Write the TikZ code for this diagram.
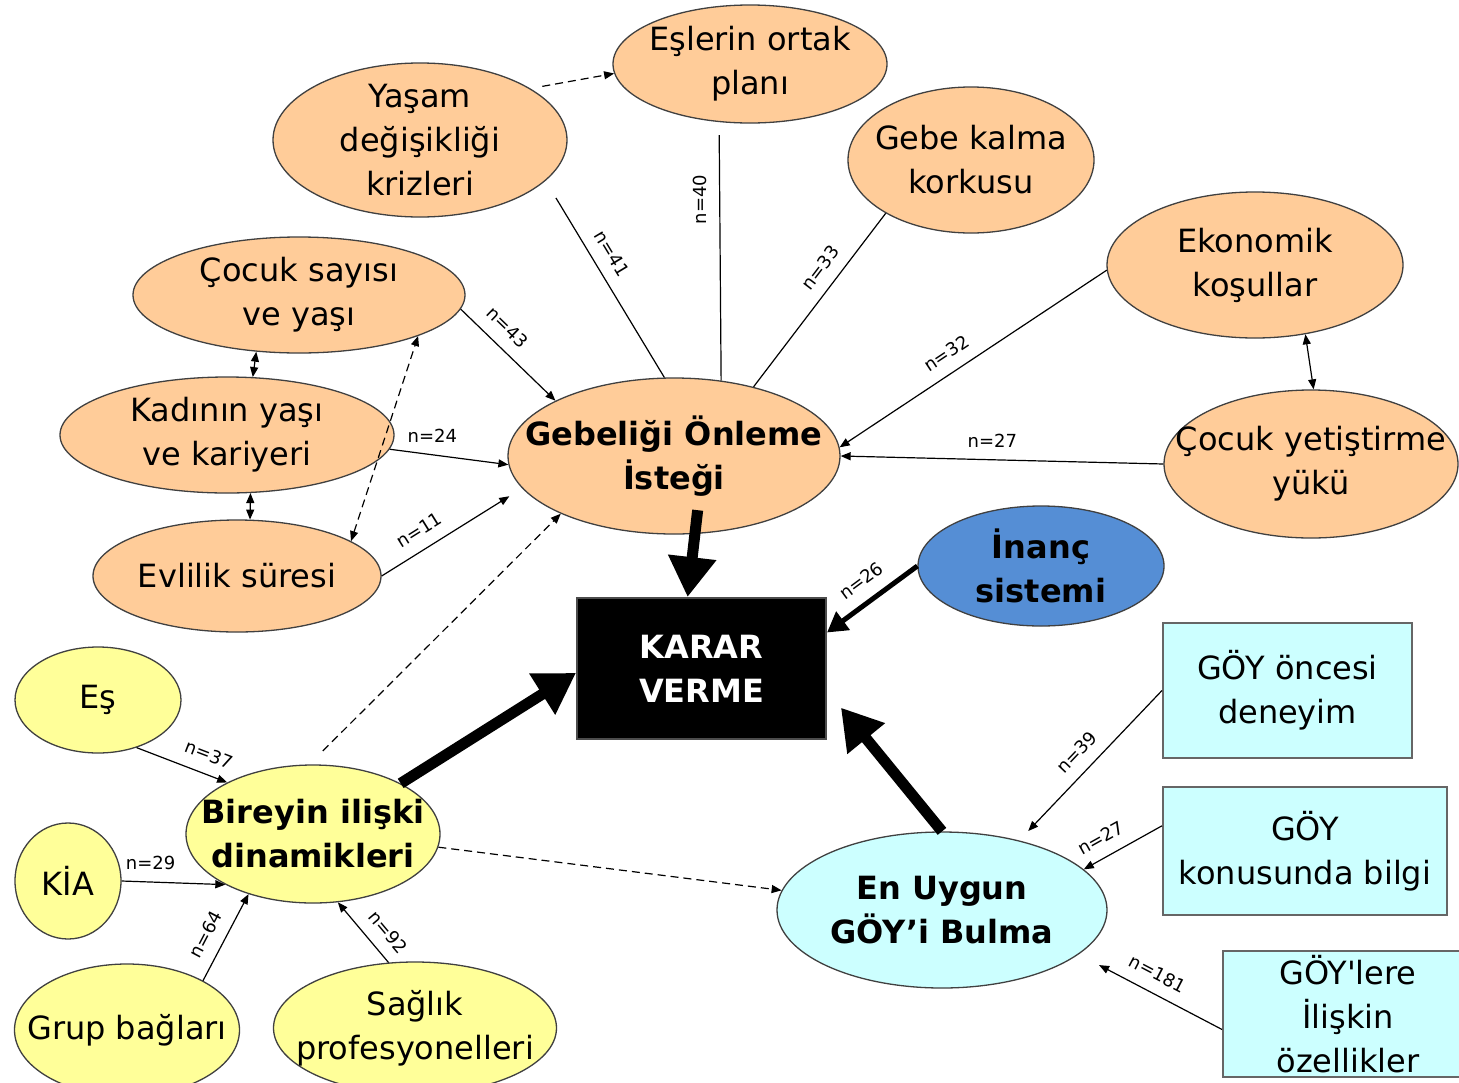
\documentclass[tikz,border=0pt]{standalone}
\usepackage{fontspec}
\setmainfont{DejaVu Sans}
\usetikzlibrary{shapes.geometric,arrows.meta}
\definecolor{peach}{HTML}{FFCC99}
\definecolor{lemon}{HTML}{FFFF99}
\definecolor{faith}{HTML}{558ED5}
\definecolor{aqua}{HTML}{CCFFFF}
\begin{document}
\begin{tikzpicture}[x=1pt,y=-1pt,
  >={Triangle[length=10pt,width=8pt]},
  dashed/.style={dash pattern=on 8pt off 5pt},
  every node/.style={font=\fontsize{32}{44}\selectfont,align=center},
  oval/.style={ellipse,draw=black!75,line width=1.3pt,inner sep=-80pt},
  box/.style={rectangle,draw=black!60,line width=2pt,inner sep=0pt},
  strong/.style={font=\bfseries\fontsize{32}{44}\selectfont},
  wire/.style={line width=1.2pt},
  heavy/.style={line width=11pt,-{Triangle[length=40pt,width=46pt]}},
  midheavy/.style={line width=5pt,-{Triangle[length=20pt,width=22pt]}},
  tag/.style={font=\fontsize{18}{20}\selectfont,inner sep=2pt,above=10pt},
  vtag/.style={font=\fontsize{18}{20}\selectfont,rotate=90,anchor=south,inner xsep=2pt,inner ysep=12pt}]
\path[use as bounding box,clip] (0,0) rectangle (1459,1082);
\fill[white] (0,0) rectangle (1459,1082);
\node[oval,fill=peach,minimum width=274pt,minimum height=118pt] (eslerin) at (750,64) {Eşlerin ortak\\planı};
\node[oval,fill=peach,minimum width=294pt,minimum height=154pt] (yasam) at (420,140) {Yaşam\\değişikliği\\krizleri};
\node[oval,fill=peach,minimum width=246pt,minimum height=146pt] (gebe) at (971,160) {Gebe kalma\\korkusu};
\node[oval,fill=peach,minimum width=332pt,minimum height=116pt] (cocuk) at (299,295) {Çocuk sayısı\\ve yaşı};
\node[oval,fill=peach,minimum width=334pt,minimum height=116pt] (kadin) at (227,435) {Kadının yaşı\\ve kariyeri};
\node[oval,fill=peach,minimum width=288pt,minimum height=112pt] (evlilik) at (237,576) {Evlilik süresi};
\node[oval,fill=peach,strong,minimum width=332pt,minimum height=156pt] (gebelik) at (674,456) {Gebeliği Önleme\\İsteği};
\node[oval,fill=peach,minimum width=296pt,minimum height=146pt] (ekonomik) at (1255,265) {Ekonomik\\koşullar};
\node[oval,fill=peach,minimum width=294pt,minimum height=148pt] (yetistirme) at (1311,464) {Çocuk yetiştirme\\yükü};
\node[oval,fill=faith,strong,minimum width=246pt,minimum height=120pt] (inanc) at (1041,566) {İnanç\\sistemi};
\node[box,fill=black,draw=black!70,text=white,strong,minimum width=249pt,minimum height=141pt] (karar) at (701.5,668.5) {KARAR\\VERME};
\node[oval,fill=lemon,minimum width=166pt,minimum height=106pt] (es) at (98,700) {Eş};
\node[oval,fill=lemon,minimum width=106pt,minimum height=116pt] (kia) at (68,881) {KİA};
\node[oval,fill=lemon,strong,minimum width=254pt,minimum height=138pt] (bireyin) at (313,834) {Bireyin ilişki\\dinamikleri};
\node[oval,fill=lemon,minimum width=225pt,minimum height=132pt] (grup) at (127,1030) {Grup bağları};
\node[oval,fill=lemon,minimum width=283pt,minimum height=132pt] (saglik) at (415,1028) {Sağlık\\profesyonelleri};
\node[oval,fill=aqua,strong,minimum width=330pt,minimum height=156pt] (enuygun) at (942,910) {En Uygun\\GÖY’i Bulma};
\node[box,fill=aqua,minimum width=249pt,minimum height=135pt] (gonce) at (1287.5,690.5) {GÖY öncesi\\deneyim};
\node[box,fill=aqua,minimum width=284pt,minimum height=128pt] (gbilgi) at (1305,851) {GÖY\\konusunda bilgi};
\node[box,fill=aqua,minimum width=250pt,minimum height=126pt] (gozellik) at (1348,1014) {GÖY\textquotesingle{}lere\\İlişkin\\özellikler};
\draw[wire,dashed,->,shorten <=12pt] (yasam.25) -- (eslerin.184);
\draw[wire,shorten <=20pt] (yasam.-18) -- node[tag,sloped,pos=0.42] {n=41} (gebelik.97);
\draw[wire,shorten <=13pt] (eslerin.242) -- node[vtag,pos=0.3] {n=40} (gebelik.58);
\draw[wire] (gebe.212) -- node[tag,sloped,pos=0.38] {n=33} (gebelik.41);
\draw[wire,->] (ekonomik.182) -- node[tag,sloped,pos=0.56] {n=32} (gebelik.3);
\draw[wire,->] (yetistirme.west) -- node[tag,pos=0.53] {n=27} (gebelik.east);
\draw[wire,<->] (ekonomik.-54) -- (yetistirme.88);
\draw[wire,->] (cocuk.-5) -- node[tag,sloped,pos=0.35] {n=43} (gebelik.155);
\draw[wire,->] (kadin.-5) -- node[tag,pos=0.36] {n=24} (gebelik.183);
\draw[wire,->,shorten >=15pt] (evlilik.east) -- node[tag,sloped,pos=0.34] {n=11} (gebelik.192);
\draw[wire,dashed,<->] (evlilik.17) -- (cocuk.-19);
\draw[wire,dashed,<->] (cocuk.-127) -- (kadin.66);
\draw[wire,dashed,<->] (kadin.-68) -- (evlilik.77);
\draw[wire,dashed,->,shorten <=19pt] (bireyin.93) -- (gebelik.207);
\draw[wire,dashed,->] (bireyin.-6) -- (enuygun.173);
\draw[wire,->] (es.-51) -- node[tag,sloped,pos=0.72] {n=37} (bireyin.149);
\draw[wire,->] (kia.east) -- node[tag,pos=0.28] {n=29} (bireyin.210);
\draw[wire,->] (grup.33) -- node[tag,sloped,pos=0.43] {n=64} (bireyin.223);
\draw[wire,->] (saglik.112) -- node[tag,sloped,pos=0.3] {n=92} (bireyin.-70);
\draw[wire,->,shorten >=13pt] (gonce.west) -- node[tag,sloped,pos=0.5] {n=39} (enuygun.42);
\draw[wire,->] (gbilgi.170) -- node[tag,sloped,pos=0.66] {n=27} (enuygun.16);
\draw[wire,->,shorten >=23pt] (gozellik.187) -- node[tag,sloped,pos=0.51] {n=181} (enuygun.-18);
\draw[heavy,shorten <=-24pt] (gebelik.-75) -- (karar.101);
\draw[heavy] (bireyin.30) -- (karar.182);
\draw[heavy,shorten >=22pt] (enuygun.north) -- (karar.-10);
\draw[midheavy] (inanc.west) -- node[tag,sloped,pos=0.48] {n=26} (karar.16);
\end{tikzpicture}
\end{document}
